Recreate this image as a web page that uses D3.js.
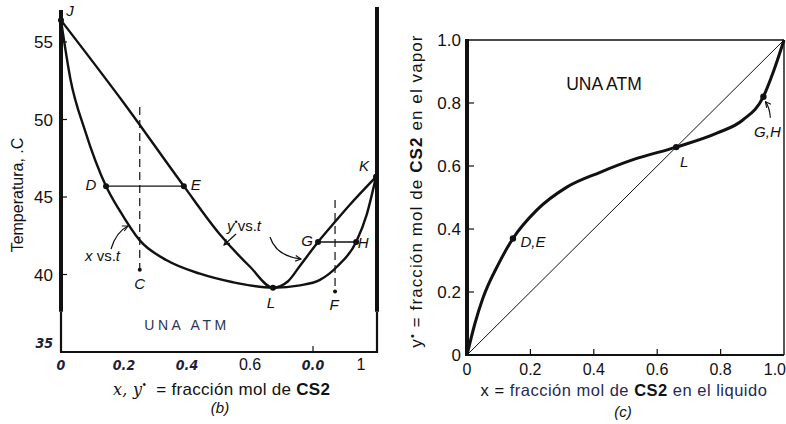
<!DOCTYPE html>
<html>
<head>
<meta charset="utf-8">
<script src="https://cdn.jsdelivr.net/npm/d3@7"></script>
<style>
  html, body { margin: 0; padding: 0; background: #fff; }
  svg { display: block; }
  text { font-family: "Liberation Sans", Arial, sans-serif; fill: #111; }
  .it { font-style: italic; }
  .bi { font-family: "Liberation Sans Narrow", "DejaVu Sans Condensed", sans-serif; font-weight: bold; font-style: italic; fill: #1c2138; }
</style>
</head>
<body>
<svg id="chart" width="786" height="424"></svg>
<script>
// ---- Panel (b): boiling-point diagram, CS2 - acetone at 1 atm ----
const liquidX = [0, 0.03, 0.076, 0.143, 0.187, 0.25, 0.337, 0.441, 0.546, 0.673, 0.759, 0.822, 0.876, 0.937, 0.971, 1.0];
const liquidT = [56.4, 52.6, 49.3, 45.7, 44.1, 42.2, 40.9, 40.05, 39.5, 39.15, 39.3, 39.65, 40.5, 42.1, 43.9, 46.3];
const vaporX  = [0, 0.2, 0.39, 0.5, 0.6, 0.673, 0.72, 0.76, 0.816, 0.87, 0.917, 1.0];
const vaporT  = [56.4, 51.05, 45.7, 42.7, 40.5, 39.15, 39.55, 40.6, 42.1, 43.4, 44.5, 46.3];
const tTicks = [55, 50, 45, 40];
const bTickVals = [0, 0.2, 0.4, 0.6, 0.8, 1];
const bTickLabels = ["0", "0.2", "0.4", "0.6", "0.0", "1"];
const bTickBold = [true, true, true, false, true, false];
const pointNames = ["J", "D", "E", "L", "G", "H", "K", "C", "F"];
const pointX = [0, 0.143, 0.39, 0.673, 0.816, 0.937, 1.0, 0.25, 0.87];
const pointT = [56.4, 45.7, 45.7, 39.15, 42.1, 42.1, 46.3, 40.3, 38.9];
// vertical dashed composition lines (x, top T, bottom T)
const dashX = [0.25, 0.87];
const dashTop = [50.8, 44.8];
const dashBottom = [40.3, 38.9];

// ---- Panel (c): equilibrium curve y* vs x ----
const eqX = [0, 0.025, 0.05, 0.1, 0.145, 0.22, 0.315, 0.42, 0.524, 0.66, 0.79, 0.87, 0.935, 0.965, 1.0];
const eqY = [0, 0.1, 0.18, 0.29, 0.37, 0.46, 0.533, 0.58, 0.62, 0.66, 0.705, 0.746, 0.82, 0.895, 1.0];
const cTicks = [0, 0.2, 0.4, 0.6, 0.8, 1.0];
const cTickLabels = ["0", "0.2", "0.4", "0.6", "0.8", "1.0"];
const cPointNames = ["D,E", "L", "G,H"];
const cPointX = [0.145, 0.66, 0.935];
const cPointY = [0.37, 0.66, 0.82];

const svg = d3.select("#chart");

svg.append("defs").append("marker")
  .attr("id", "arr").attr("viewBox", "0 0 10 10")
  .attr("refX", 9).attr("refY", 5)
  .attr("markerWidth", 7).attr("markerHeight", 7)
  .attr("markerUnits", "userSpaceOnUse")
  .attr("orient", "auto")
  .append("path").attr("d", "M1,1 L9,5 L1,9")
  .attr("fill", "none").attr("stroke", "#111").attr("stroke-width", 1.6);

// ================= Panel (b) =================
const xb = d3.scaleLinear().domain([0, 1]).range([61, 376]);
const yb = d3.scaleLinear().domain([35, 55]).range([352, 42]);
const gb = svg.append("g");

// frame: heavy side rules, lighter below
gb.append("line").attr("x1", xb(0)).attr("x2", xb(0)).attr("y1", 10).attr("y2", yb(37.6))
  .attr("stroke", "#111").attr("stroke-width", 4);
gb.append("line").attr("x1", xb(0)).attr("x2", xb(0)).attr("y1", yb(37.6)).attr("y2", yb(35))
  .attr("stroke", "#111").attr("stroke-width", 2.2);
gb.append("line").attr("x1", xb(1) + 1).attr("x2", xb(1) + 1).attr("y1", 7).attr("y2", yb(37.6))
  .attr("stroke", "#111").attr("stroke-width", 4);
gb.append("line").attr("x1", xb(1) + 1).attr("x2", xb(1) + 1).attr("y1", yb(37.6)).attr("y2", yb(35) + 1)
  .attr("stroke", "#111").attr("stroke-width", 2.2);
gb.append("line").attr("x1", xb(0) - 1).attr("x2", xb(1) + 2).attr("y1", yb(35)).attr("y2", yb(35))
  .attr("stroke", "#111").attr("stroke-width", 2.2);

// y ticks (inward) and labels
gb.selectAll(".ytk").data(tTicks).join("line")
  .attr("x1", xb(0)).attr("x2", xb(0) + 6)
  .attr("y1", d => yb(d)).attr("y2", d => yb(d))
  .attr("stroke", "#111").attr("stroke-width", 1.2);
gb.selectAll(".ylb").data(tTicks).join("text")
  .attr("x", xb(0) - 8).attr("y", d => yb(d))
  .attr("dy", "0.36em").attr("text-anchor", "end")
  .attr("font-size", 17).text(d => d);
gb.append("text").attr("class", "bi")
  .attr("x", xb(0) - 8).attr("y", yb(35) - 9).attr("dy", "0.36em")
  .attr("text-anchor", "end").attr("font-size", 14).text("35");

// x tick at 0.8 and labels
gb.append("line").attr("x1", xb(0.8)).attr("x2", xb(0.8))
  .attr("y1", yb(35)).attr("y2", yb(35) - 6).attr("stroke", "#111").attr("stroke-width", 1.2);
gb.selectAll(".xlb").data(bTickVals).join("text")
  .attr("class", (d, i) => bTickBold[i] ? "bi" : null)
  .attr("x", (d, i) => xb(d) + (i === 5 ? -15 : 0))
  .attr("y", yb(35) + 18)
  .attr("text-anchor", "middle")
  .attr("font-size", (d, i) => bTickBold[i] ? 14 : 16)
  .text((d, i) => bTickLabels[i]);

// axis titles
gb.append("text")
  .attr("transform", `translate(23,195) rotate(-90)`)
  .attr("text-anchor", "middle").attr("font-size", 16)
  .text("Temperatura, .C");
const bt = gb.append("text").attr("x", 113).attr("y", 395).attr("font-size", 17).attr("letter-spacing", 0.3);
bt.append("tspan").attr("class", "it").attr("font-family", "DejaVu Serif, serif").attr("font-size", 16).text("x, y");
bt.append("tspan").attr("dy", -7).attr("font-size", 10).text("•");
bt.append("tspan").attr("dy", 7).attr("dx", 10).text("= fracción mol de ");
bt.append("tspan").attr("font-weight", "bold").text("CS2");
gb.append("text").attr("x", 220).attr("y", 413).attr("text-anchor", "middle")
  .attr("font-size", 15).attr("class", "it").text("(b)");

gb.append("text").attr("x", 187).attr("y", 330).attr("text-anchor", "middle")
  .attr("font-size", 14).attr("letter-spacing", 3.6)
  .style("fill", "#2a3556").text("UNA ATM");

// dashed composition lines
gb.selectAll(".dash").data(dashX).join("line")
  .attr("x1", d => xb(d)).attr("x2", d => xb(d))
  .attr("y1", (d, i) => yb(dashTop[i])).attr("y2", (d, i) => yb(dashBottom[i]))
  .attr("stroke", "#111").attr("stroke-width", 1.2).attr("stroke-dasharray", "8,5");

// tie lines D-E and G-H
gb.append("line").attr("x1", xb(pointX[1])).attr("x2", xb(pointX[2]))
  .attr("y1", yb(45.7)).attr("y2", yb(45.7)).attr("stroke", "#111").attr("stroke-width", 1.4);
gb.append("line").attr("x1", xb(pointX[4])).attr("x2", xb(pointX[5]))
  .attr("y1", yb(42.1)).attr("y2", yb(42.1)).attr("stroke", "#111").attr("stroke-width", 1.4);

// liquid and vapour curves
const lineB = d3.line().curve(d3.curveMonotoneX).x(d => xb(d[0])).y(d => yb(d[1]));
gb.append("path").datum(d3.zip(liquidX, liquidT)).attr("d", lineB)
  .attr("fill", "none").attr("stroke", "#111").attr("stroke-width", 2.4);
gb.append("path").datum(d3.zip(vaporX, vaporT)).attr("d", lineB)
  .attr("fill", "none").attr("stroke", "#111").attr("stroke-width", 2.4);

// marked states
gb.selectAll(".pt").data(pointNames).join("circle")
  .attr("cx", (d, i) => xb(pointX[i])).attr("cy", (d, i) => yb(pointT[i]))
  .attr("r", (d, i) => i >= 7 ? 2 : 3).attr("fill", "#111");

const labOff = { J: [9, -4], D: [-15, 4], E: [12, 4], L: [-2, 20], G: [-11, 4], H: [7, 6], K: [-12, -6], C: [0, 19], F: [-1, 18] };
gb.selectAll(".plb").data(pointNames).join("text")
  .attr("class", "it")
  .attr("x", (d, i) => xb(pointX[i]) + labOff[d][0])
  .attr("y", (d, i) => yb(pointT[i]) + labOff[d][1])
  .attr("text-anchor", "middle").attr("font-size", 15).text(d => d);

// curve annotations
const t1 = gb.append("text").attr("x", 85).attr("y", 261).attr("font-size", 15);
t1.append("tspan").attr("class", "it").text("x ");
t1.append("tspan").text("vs.");
t1.append("tspan").attr("class", "it").text("t");
gb.append("path").attr("d", "M111,249 Q116,232 128,226")
  .attr("fill", "none").attr("stroke", "#111").attr("stroke-width", 1.2).attr("marker-end", "url(#arr)");

const t2 = gb.append("text").attr("x", 227).attr("y", 231).attr("font-size", 15);
t2.append("tspan").attr("class", "it").text("y");
t2.append("tspan").attr("dy", -6).attr("font-size", 9).text("•");
t2.append("tspan").attr("dy", 6).text("vs.");
t2.append("tspan").attr("class", "it").text("t");
gb.append("path").attr("d", "M236,234 L224,245")
  .attr("fill", "none").attr("stroke", "#111").attr("stroke-width", 1.2).attr("marker-end", "url(#arr)");
gb.append("path").attr("d", "M270,237 Q276,256 301,259")
  .attr("fill", "none").attr("stroke", "#111").attr("stroke-width", 1.2).attr("marker-end", "url(#arr)");

// ================= Panel (c) =================
const xc = d3.scaleLinear().domain([0, 1]).range([467, 784]);
const yc = d3.scaleLinear().domain([0, 1]).range([355, 40]);
const gc = svg.append("g");

gc.append("line").attr("x1", xc(0)).attr("x2", xc(1)).attr("y1", yc(1)).attr("y2", yc(1))
  .attr("stroke", "#111").attr("stroke-width", 1.4);
gc.append("line").attr("x1", xc(1)).attr("x2", xc(1)).attr("y1", yc(1)).attr("y2", yc(0))
  .attr("stroke", "#111").attr("stroke-width", 1.4);
gc.append("line").attr("x1", xc(0)).attr("x2", xc(0)).attr("y1", yc(1) - 1).attr("y2", yc(0) + 1)
  .attr("stroke", "#111").attr("stroke-width", 4);
gc.append("line").attr("x1", xc(0)).attr("x2", xc(1)).attr("y1", yc(0)).attr("y2", yc(0))
  .attr("stroke", "#111").attr("stroke-width", 2.2);

const inner = cTicks.slice(1, 5);
gc.selectAll(".ytc").data(inner).join("line")
  .attr("x1", xc(0)).attr("x2", xc(0) + 7).attr("y1", d => yc(d)).attr("y2", d => yc(d))
  .attr("stroke", "#111").attr("stroke-width", 1.2);
gc.selectAll(".xtc").data(inner).join("line")
  .attr("x1", d => xc(d)).attr("x2", d => xc(d)).attr("y1", yc(0)).attr("y2", yc(0) - 6)
  .attr("stroke", "#111").attr("stroke-width", 1.2);
gc.selectAll(".ylc").data(cTicks).join("text")
  .attr("x", xc(0) - 6).attr("y", d => yc(d)).attr("dy", "0.36em")
  .attr("text-anchor", "end").attr("font-size", 17).text((d, i) => cTickLabels[i]);
gc.selectAll(".xlc").data(cTicks).join("text")
  .attr("x", (d, i) => i === 5 ? 786 : xc(d)).attr("y", yc(0) + 20)
  .attr("text-anchor", (d, i) => i === 5 ? "end" : "middle")
  .attr("font-size", 16).text((d, i) => cTickLabels[i]);

// axis titles
const ct = gc.append("text").attr("transform", "translate(422,191) rotate(-90)")
  .attr("text-anchor", "middle").attr("font-size", 17).attr("letter-spacing", 1.1);
ct.append("tspan").text("y");
ct.append("tspan").attr("dy", -6).attr("font-size", 11).text("•");
ct.append("tspan").attr("dy", 6).text(" = fracción mol de ");
ct.append("tspan").attr("font-weight", "bold").text("CS2");
ct.append("tspan").text(" en el vapor");

const cx = gc.append("text").attr("x", 624).attr("y", 396)
  .attr("text-anchor", "middle").attr("font-size", 16.5).attr("letter-spacing", 0.5);
cx.append("tspan").text("x = ").style("fill", "#111");
cx.append("tspan").text("fracción mol de ").style("fill", "#1f2a55");
cx.append("tspan").attr("font-weight", "bold").text("CS2").style("fill", "#111");
cx.append("tspan").text(" en el liquido").style("fill", "#1f2a55");
gc.append("text").attr("x", 623).attr("y", 417).attr("text-anchor", "middle")
  .attr("font-size", 15).attr("class", "it").text("(c)");

gc.append("text").attr("x", 604).attr("y", 90).attr("text-anchor", "middle")
  .attr("font-size", 17.5).text("UNA ATM");

// diagonal y = x
gc.append("line").attr("x1", xc(0)).attr("y1", yc(0)).attr("x2", xc(1)).attr("y2", yc(1))
  .attr("stroke", "#111").attr("stroke-width", 1);

// equilibrium curve
const lineC = d3.line().curve(d3.curveMonotoneX).x(d => xc(d[0])).y(d => yc(d[1]));
gc.append("path").datum(d3.zip(eqX, eqY)).attr("d", lineC)
  .attr("fill", "none").attr("stroke", "#111").attr("stroke-width", 3);

gc.selectAll(".cpt").data(cPointNames).join("circle")
  .attr("cx", (d, i) => xc(cPointX[i])).attr("cy", (d, i) => yc(cPointY[i]))
  .attr("r", 3.2).attr("fill", "#111");
const cOff = [[20, 9], [8, 20], [4, 40]];
gc.selectAll(".clb").data(cPointNames).join("text")
  .attr("class", "it")
  .attr("x", (d, i) => xc(cPointX[i]) + cOff[i][0])
  .attr("y", (d, i) => yc(cPointY[i]) + cOff[i][1])
  .attr("text-anchor", "middle").attr("font-size", 15).text(d => d);
gc.append("path")
  .attr("d", `M${xc(cPointX[2]) + 7},${yc(cPointY[2]) + 21} Q${xc(cPointX[2]) + 6},${yc(cPointY[2]) + 10} ${xc(cPointX[2]) + 2},${yc(cPointY[2]) + 5}`)
  .attr("fill", "none").attr("stroke", "#111").attr("stroke-width", 1.2).attr("marker-end", "url(#arr)");
</script>
</body>
</html>
